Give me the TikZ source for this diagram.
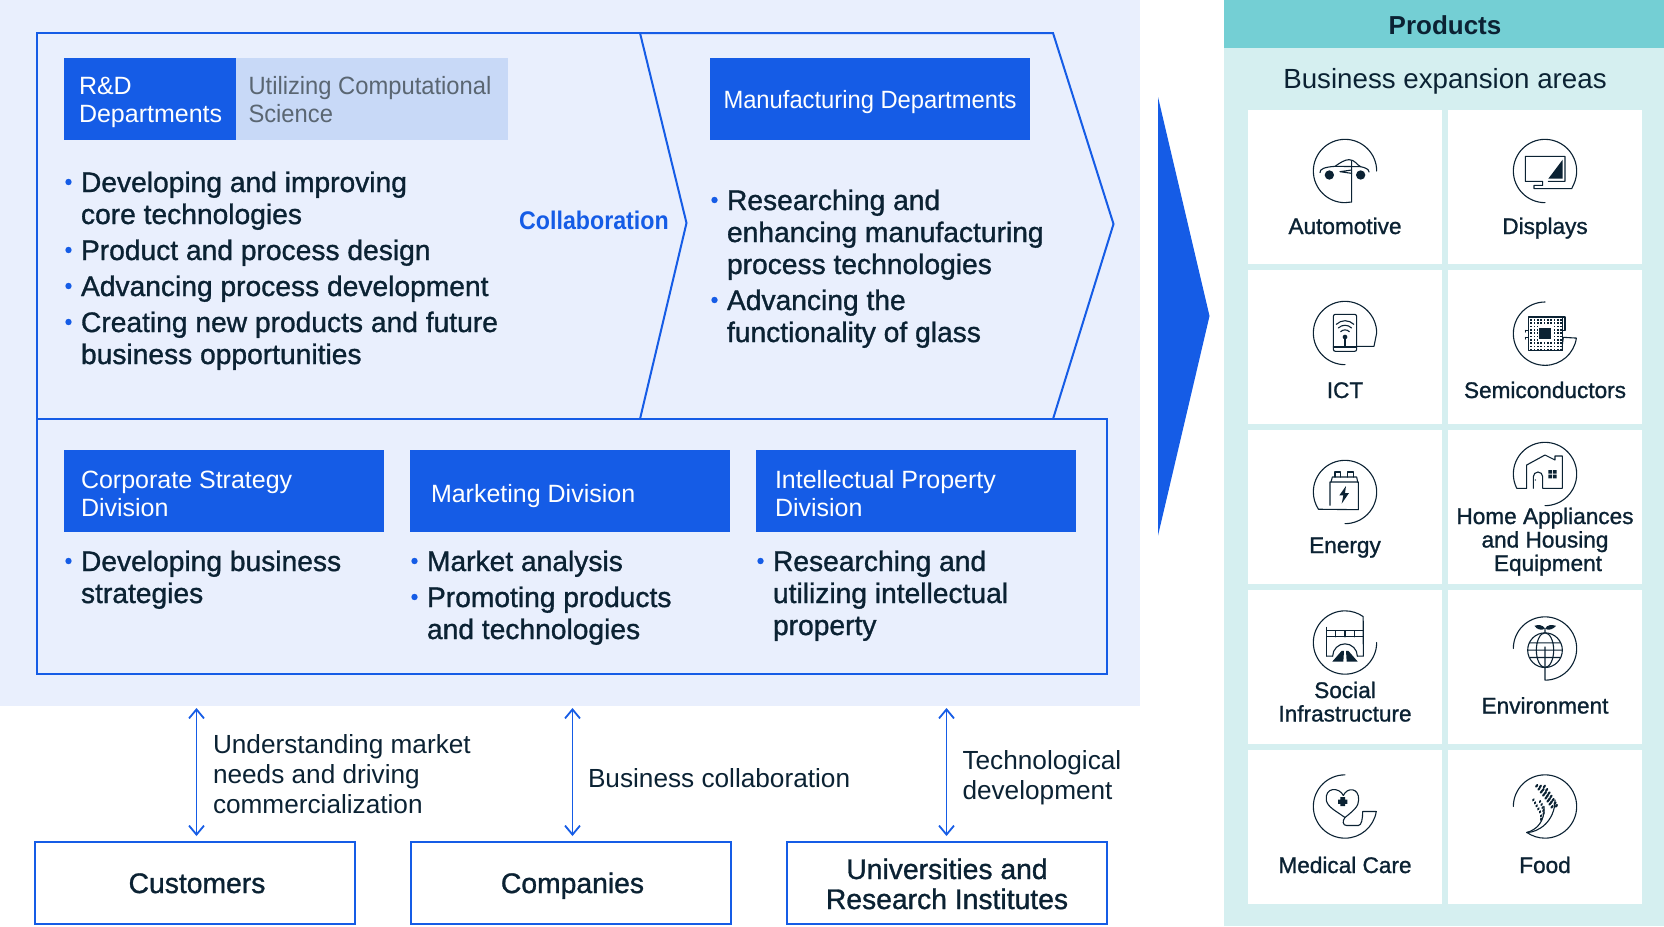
\documentclass[tikz,border=0pt]{standalone}
\usepackage{fontspec}
\usetikzlibrary{arrows.meta}
\setmainfont{Liberation Sans}
\newfontfamily\med[FakeBold=1.1]{Liberation Sans}
\newfontfamily\reg{Liberation Sans}
\newfontfamily\cond[FakeStretch=0.95]{Liberation Sans}
\newfontfamily\bld{Liberation Sans Bold}
\newfontfamily\bldc[FakeStretch=0.91]{Liberation Sans Bold}
\definecolor{ink}{HTML}{0B2233}
\definecolor{bluemain}{HTML}{155CE6}
\definecolor{panel}{HTML}{E9EFFD}
\definecolor{utilbox}{HTML}{C8D9F7}
\definecolor{utiltext}{HTML}{5A6672}
\definecolor{tealhead}{HTML}{74CFD4}
\definecolor{teallight}{HTML}{D5EFF0}
\newcommand\lab[5]{\node[#2,yshift=24pt] (#1) at (#3,#4) {\rule{0pt}{24pt}#5};}
\newcommand\bul[5]{\fill[bluemain] (#3,#4-10) circle (3.2);\lab{#1}{#2}{#3+12.5}{#4}{#5}}
\newcommand\iconat[2]{\begin{scope}[shift={(#1,#2)},x=0.3333pt,y=-0.3333pt,icon]}
\tikzset{
  icon/.style={draw=ink,line width=1.1pt,line join=round,line cap=round},
  mainitem/.style={anchor=north west,align=left,inner sep=0,outer sep=0,text=ink,font=\med\fontsize{28.2}{32}\selectfont},
  boxhead/.style={anchor=north west,align=left,inner sep=0,outer sep=0,text=white,font=\reg\fontsize{25}{28}\selectfont},
  condhead/.style={boxhead,font=\cond\fontsize{25}{28}\selectfont},
  utilhead/.style={condhead,text=utiltext},
  sidelabel/.style={anchor=north west,align=left,inner sep=0,outer sep=0,text=ink,font=\reg\fontsize{26.2}{30}\selectfont},
  cardlabel/.style={anchor=north,align=center,inner sep=0,outer sep=0,text=ink,font=\med\fontsize{22.6}{23.5}\selectfont},
  extlabel/.style={anchor=north,align=center,inner sep=0,outer sep=0,text=ink,font=\med\fontsize{28.3}{30}\selectfont},
  bluebox/.style={fill=bluemain,draw=none,inner sep=0,minimum width=320pt,minimum height=82pt},
  extbox/.style={fill=white,draw=bluemain,line width=2pt,inner sep=0,minimum width=320pt,minimum height=82pt},
  cardbox/.style={fill=white,draw=none,inner sep=0,minimum width=194pt,minimum height=154pt},
  framel/.style={draw=bluemain,line width=2pt,line join=miter},
  biarrow/.style={draw=bluemain,line width=1.8pt,{Straight Barb[length=9pt,width=15pt]}-{Straight Barb[length=9pt,width=15pt]}}
}
\begin{document}
\begin{tikzpicture}[x=1pt,y=-1pt]
\useasboundingbox (0,0) rectangle (1664,926);
\fill[white] (0,0) rectangle (1664,926);
% backgrounds
\fill[panel] (0,0) rectangle (1140,706);
\fill[teallight] (1224,0) rectangle (1664,926);
\fill[tealhead] (1224,0) rectangle (1664,48);
\fill[bluemain] (1158,97) -- (1209.5,316) -- (1158,535.5) -- cycle;
% frames
\draw[framel] (640,33) -- (37,33) -- (37,674) -- (1107,674) -- (1107,419) -- (37,419);
\draw[framel] (640,33) -- (686.5,223) -- (640,419);
\draw[framel] (640,33) -- (1053,33) -- (1113.5,224) -- (1053,419);
% header boxes
\node[bluebox,minimum width=172pt] (rdbox) at (150,99) {};
\node[bluebox,fill=utilbox,minimum width=272pt] (utilb) at (372,99) {};
\node[bluebox] (mfbox) at (870,99) {};
\node[bluebox] (csbox) at (224,491) {};
\node[bluebox] (mkbox) at (570,491) {};
\node[bluebox] (ipbox) at (916,491) {};
\lab{rdtext}{boxhead}{79}{94}{R\&D\\Departments}
\lab{uttext}{utilhead}{248.5}{94}{Utilizing Computational\\Science}
\lab{mftext}{condhead}{723.5}{108}{Manufacturing Departments}
\lab{cstext}{boxhead}{81}{488}{Corporate Strategy\\Division}
\lab{mktext}{boxhead}{431}{502}{Marketing Division}
\lab{iptext}{boxhead}{775}{488}{Intellectual Property\\Division}
% lists
\bul{la}{mainitem}{68.5}{192}{Developing and improving\\core technologies}
\bul{lb}{mainitem}{68.5}{260}{Product and process design}
\bul{lc}{mainitem}{68.5}{296}{Advancing process development}
\bul{ld}{mainitem}{68.5}{332}{Creating new products and future\\business opportunities}
\bul{ma}{mainitem}{714.5}{210}{Researching and\\enhancing manufacturing\\process technologies}
\bul{mb}{mainitem}{714.5}{310}{Advancing the\\functionality of glass}
\bul{ca}{mainitem}{68.5}{571}{Developing business\\strategies}
\bul{mka}{mainitem}{414.5}{571}{Market analysis}
\bul{mkb}{mainitem}{414.5}{607}{Promoting products\\and technologies}
\bul{ia}{mainitem}{760.5}{571}{Researching and\\utilizing intellectual\\property}
\node[anchor=base west,inner sep=0,text=bluemain,font=\bldc\fontsize{25.5}{30}\selectfont] (collab) at (519,229) {Collaboration};
% external boxes and arrows
\node[extbox] (customers) at (195,882.5) {};
\node[extbox] (companies) at (571,882.5) {};
\node[extbox] (univ) at (947,882.5) {};
\lab{custt}{extlabel}{197}{893}{Customers}
\lab{compt}{extlabel}{572.5}{893}{Companies}
\lab{univt}{extlabel}{947}{879}{Universities and\\Research Institutes}
\coordinate (t1) at (196.5,708);
\coordinate (t2) at (572.5,708);
\coordinate (t3) at (946.5,708);
\draw[biarrow,shorten >=4.5pt] (t1) -- (t1 |- customers.north);
\draw[biarrow,shorten >=4.5pt] (t2) -- (t2 |- companies.north);
\draw[biarrow,shorten >=4.5pt] (t3) -- (t3 |- univ.north);
\lab{s1}{sidelabel}{213}{753}{Understanding market\\needs and driving\\commercialization}
\lab{s2}{sidelabel}{588}{787.5}{Business collaboration}
\lab{s3}{sidelabel}{962.5}{769.5}{Technological\\development}
% right panel
\node[anchor=base,inner sep=0,text=ink,font=\bld\fontsize{26}{30}\selectfont] (prodhead) at (1445,34) {Products};
\node[anchor=base,inner sep=0,text=ink,font=\reg\fontsize{27.7}{30}\selectfont] (bizareas) at (1445,88) {Business expansion areas};
\node[cardbox] (c1) at (1345,186.7) {};
\node[cardbox] (c2) at (1545,186.7) {};
\node[cardbox] (c3) at (1345,347) {};
\node[cardbox] (c4) at (1545,347) {};
\node[cardbox] (c5) at (1345,507) {};
\node[cardbox] (c6) at (1545,507) {};
\node[cardbox] (c7) at (1345,667) {};
\node[cardbox] (c8) at (1545,667) {};
\node[cardbox] (c9) at (1345,827) {};
\node[cardbox] (c10) at (1545,827) {};
\lab{k1}{cardlabel}{1345}{234}{Automotive}
\lab{k2}{cardlabel}{1545}{234}{Displays}
\lab{k3}{cardlabel}{1345}{398}{ICT}
\lab{k4}{cardlabel}{1545}{398}{Semiconductors}
\lab{k5}{cardlabel}{1345}{553}{Energy}
\lab{k6}{cardlabel}{1545}{524}{Home Appliances\\and Housing\\\hspace*{6pt}Equipment}
\lab{k7}{cardlabel}{1345}{698}{Social\\Infrastructure}
\lab{k8}{cardlabel}{1545}{713.5}{Environment}
\lab{k9}{cardlabel}{1345}{873}{Medical Care}
\lab{k10}{cardlabel}{1545}{873}{Food}
% Automotive
\iconat{1345}{171}
\draw (95,0) arc (0:-270:95) -- (20,93) -- (20,-30);
\draw (-75,5) .. controls (-77,-6) and (-60,-12) .. (-30,-14) .. controls (-15,-25) and (0,-34) .. (12,-34) .. controls (30,-34) and (35,-18) .. (47,-13) .. controls (60,-10) and (72,-6) .. (72,3);
\draw (-30,-14) -- (47,-13);
\draw (-15,2) -- (20,-3) (-15,2) -- (20,7);
\fill[ink,draw=none] (-47,12) circle (14) (47,12) circle (14);
\end{scope}
% Displays
\iconat{1545}{171}
\draw (0,95) arc (90:385:95) -- (80,53) -- (-33,53) -- (-33,43) -- (-7,43) -- (-7,31) -- (-59,31) -- (-59,-44) -- (60,-44) -- (60,31) -- (10,31);
\fill[ink,draw=none] (53,-34) -- (53,23) -- (10,23) -- cycle;
\end{scope}
% ICT
\iconat{1345}{333}
\draw (0,95) arc (90:360:95) -- (87,40) -- (35,40);
\draw[rounded corners=2pt] (-35,-56) rectangle (35,55);
\draw (-35,42) -- (35,42) (0,12) -- (0,42);
\fill[ink,draw=none] (0,12) circle (7);
\draw (-13,-4) arc (225:315:18.4) (-20,-15) arc (225:315:28) (-26,-26) arc (225:315:37);
\end{scope}
% Semiconductors
\iconat{1545}{333}
\draw (0,-93) arc (270:8:95) -- (55,13) .. controls (52,25) and (52,35) .. (52,52);
\draw (-50,-48) rectangle (52,52);
\draw (-59,-8) -- (-50,-8) (-59,-8) -- (-59,-3) (-59,13) -- (-50,13) (-59,13) -- (-59,18) (52,-8) -- (60,-8) -- (60,-48) -- (52,-48);
\foreach \i in {0,...,9} \foreach \j in {0,...,9} {
  \fill[ink,draw=none] (-44+\i*10,-42+\j*10) rectangle ++(5,5);
}
\fill[white,draw=none] (-22,-20) rectangle (24,26);
\fill[ink,draw=none] (-17,-15) rectangle (17,19);
\end{scope}
% Energy
\iconat{1345}{492}
\draw (0,95) arc (90:-213:95) -- (40,53) -- (40,-30) -- (-45,-30) -- (-45,40);
\draw (-42,-30) -- (-38,-45) -- (35,-45) -- (38,-30);
\draw (-30,-45) -- (-30,-60) -- (-13,-60) -- (-13,-45) (7,-45) -- (7,-60) -- (25,-60) -- (25,-45);
\fill[ink,draw=none] (3,-18) -- (-17,10) -- (-5,10) -- (-10,35) -- (12,3) -- (0,3) -- cycle;
\end{scope}
% Home
\iconat{1545}{474}
\draw (0,95) arc (90:-207:95) -- (-55,43) -- (-55,-27) -- (0,-57) -- (30,-42) -- (30,-54) -- (52,-54) -- (52,-27) -- (52,43) -- (-7,43) -- (-7,8) arc (0:-180:14) -- (-35,43);
\fill[ink,draw=none] (10,-12) rectangle (21,-1) (24,-12) rectangle (35,-1) (10,2) rectangle (21,13) (24,2) rectangle (35,13);
\fill[ink,draw=none] (-29,18) circle (2);
\end{scope}
% Social
\iconat{1345}{642.5}
\draw (95,0) arc (0:305:95) -- (55,41) -- (37,41) (-55,41) -- (-37,41);
\draw (-55,41) -- (-55,-45);
\draw (-55,-35) -- (55,-35) (-55,-17) -- (55,-17);
\draw (-28,-35) -- (-28,-17) (0,-35) -- (0,-17) (28,-35) -- (28,-17);
\draw (-37,41) arc (180:360:37);
\fill[ink,draw=none] (-38,57) -- (-10,25) -- (-3,25) -- (-5,57) -- cycle (38,57) -- (10,25) -- (3,25) -- (5,57) -- cycle;
\end{scope}
% Environment
\iconat{1545}{648.5}
\draw (-95,0) arc (180:450:95) -- (0,-5);
\draw (0,5) circle (52);
\draw (0,5) ellipse (26 and 52) (-52,5) -- (52,5) (-47,-17) -- (47,-17) (-47,27) -- (47,27) (0,-47) -- (0,-57);
\fill[ink,draw=none] (0,-60) .. controls (-8,-72) and (-20,-72) .. (-32,-68) .. controls (-25,-58) and (-10,-52) .. (0,-60) -- cycle;
\fill[ink,draw=none] (0,-60) .. controls (8,-72) and (20,-72) .. (33,-68) .. controls (25,-58) and (10,-52) .. (0,-60) -- cycle;
\end{scope}
% Medical
\iconat{1345}{806.5}
\draw (0,-95) arc (270:9:95) -- (53,15) .. controls (53,35) and (50,57) .. (40,57) -- (5,57) .. controls (-8,57) and (-8,42) .. (0,33);
\draw (-5,-33) .. controls (-18,-60) and (-62,-58) .. (-56,-18) .. controls (-52,2) and (-25,15) .. (0,33) .. controls (22,15) and (42,0) .. (41,-20) .. controls (42,-58) and (6,-58) .. (-5,-33);
\fill[ink,draw=none] (-14,-28) rectangle (0,-1) (-21,-21) rectangle (7,-8);
\end{scope}
% Food
\iconat{1545}{806.5}
\draw (-95,0) arc (180:485:95);
\draw (-55,78) .. controls (-20,78) and (30,45) .. (30,-20);
\draw (-55,78) .. controls (-25,70) and (0,45) .. (-3,0);
\foreach \a/\b in {-25/-62,-18/-53,-11/-44,-4/-35,3/-26,9/-17,15/-8,21/1,-2/-60,5/-50,12/-40,18/-30,24/-20,30/-10,34/-2,-14/-60,-6/-50,1/-41,7/-32,13/-22,19/-13} {
  \fill[ink,draw=none,rotate around={55:(\a,\b)}] (\a,\b) ellipse (6 and 3.5);
}
\foreach \a/\b in {-35/-20,-30/-11,-25/-2,-20/7,-15/16,-12/28,-12/38,-15/-15,-10/-6,-7/3,-5/12,-4/21} {
  \fill[ink,draw=none,rotate around={60:(\a,\b)}] (\a,\b) ellipse (5.5 and 3.5);
}
\end{scope}
\end{tikzpicture}
\end{document}
